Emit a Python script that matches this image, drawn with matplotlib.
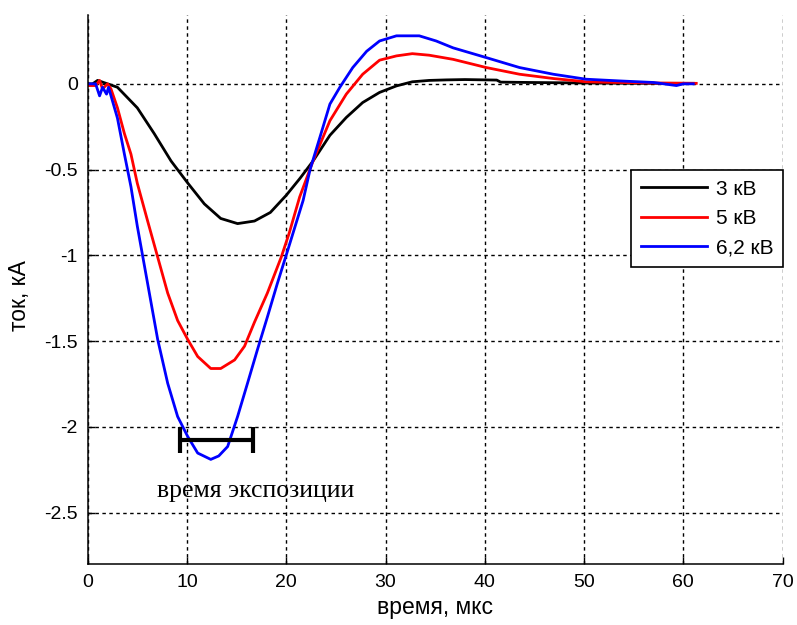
import matplotlib
matplotlib.use("Agg")
import matplotlib.pyplot as plt

plt.rcParams['font.family'] = ['Liberation Sans', 'DejaVu Sans']

# 3 кВ
t_3kv = [0, 0.5, 1.0, 1.5, 2.0, 3.0, 5.0, 6.7, 8.4, 10.1, 11.75, 13.4, 15.1,
         16.8, 18.4, 20.0, 21.4, 22.7, 24.4, 26.05, 27.7, 29.4, 31.1, 32.7,
         34.4, 36.1, 38.0, 41.2, 41.6, 44.5, 50.0, 55.0, 61.0]
i_3kv = [0, 0, 0.02, 0.01, 0.0, -0.02, -0.14, -0.29, -0.45, -0.58, -0.70,
         -0.785, -0.815, -0.80, -0.75, -0.65, -0.55, -0.45, -0.30, -0.196,
         -0.109, -0.05, -0.012, 0.012, 0.02, 0.023, 0.025, 0.022, 0.01, 0.008,
         0.005, 0.003, 0.003]

# 5 кВ
t_5kv = [0, 0.8, 1.2, 1.5, 2.0, 2.35, 3.0, 3.7, 4.36, 5.0, 6.04, 7.05, 8.06,
         9.06, 10.07, 11.08, 12.4, 13.4, 14.8, 15.8, 16.8, 18.1, 19.5, 20.3,
         21.35, 22.7, 24.4, 26.05, 27.7, 29.4, 31.1, 32.7, 34.4, 36.8, 40.15,
         43.5, 46.9, 50.2, 53.6, 57.0, 61.3]
i_5kv = [-0.01, -0.01, 0.02, -0.03, 0.0, -0.03, -0.14, -0.29, -0.41, -0.58,
         -0.80, -1.01, -1.22, -1.38, -1.49, -1.59, -1.66, -1.66, -1.61, -1.53,
         -1.39, -1.22, -1.01, -0.87, -0.66, -0.45, -0.215, -0.06, 0.056,
         0.138, 0.163, 0.176, 0.167, 0.143, 0.095, 0.056, 0.031, 0.012,
         0.008, 0.005, 0.003]

# 6,2 кВ
t_62kv = [0, 0.8, 1.2, 1.5, 1.9, 2.1, 2.4, 3.0, 3.7, 4.36, 5.0, 6.04, 7.05,
          8.06, 9.06, 10.07, 11.08, 12.4, 13.2, 14.1, 15.1, 16.1, 17.1, 18.1,
          19.1, 20.1, 21.7, 22.4, 23.4, 24.4, 25.4, 26.7, 28.1, 29.4, 31.1,
          33.4, 35.1, 36.8, 40.15, 43.5, 46.9, 50.2, 53.6, 57.0, 59.3, 60.0,
          61.0]
i_62kv = [0, 0, -0.07, -0.02, -0.06, -0.02, -0.08, -0.2, -0.41, -0.60, -0.83,
          -1.165, -1.49, -1.746, -1.94, -2.056, -2.153, -2.19, -2.17, -2.115,
          -1.94, -1.746, -1.55, -1.36, -1.165, -0.98, -0.68, -0.5, -0.31,
          -0.118, -0.02, 0.095, 0.19, 0.25, 0.28, 0.28, 0.25, 0.21, 0.153,
          0.095, 0.056, 0.027, 0.017, 0.008, -0.01, 0.0, 0.0]

series = [
    (t_3kv, i_3kv, 'k', '3 кВ'),
    (t_5kv, i_5kv, 'r', '5 кВ'),
    (t_62kv, i_62kv, 'b', '6,2 кВ'),
]

# интервал экспозиции (мкс) и его уровень на графике (кА)
exposure_start = 9.26
exposure_end = 16.65
exposure_level = -2.076
exposure_cap = 0.075
exposure_text = 'время экспозиции'
exposure_text_pos = (16.9, -2.376)

x_ticks = [0, 10, 20, 30, 40, 50, 60, 70]
y_ticks = [-2.5, -2, -1.5, -1, -0.5, 0]
y_tick_labels = ['-2.5', '-2', '-1.5', '-1', '-0.5', '0']

fig = plt.figure(figsize=(7.97, 6.25), dpi=100)
ax = fig.add_axes([0.110, 0.0976, 0.872, 0.878])

for t, i, color, label in series:
    ax.plot(t, i, color=color, linewidth=2, label=label)

# отрезок "время экспозиции"
ax.plot([exposure_start, exposure_end], [exposure_level, exposure_level],
        color='k', linewidth=3, solid_capstyle='butt')
for x in (exposure_start, exposure_end):
    ax.plot([x, x], [exposure_level - exposure_cap, exposure_level + exposure_cap],
            color='k', linewidth=3, solid_capstyle='butt')
ax.text(exposure_text_pos[0], exposure_text_pos[1], exposure_text,
        family=['Liberation Serif', 'DejaVu Serif'], fontsize=18.5,
        ha='center', va='center')

ax.set_xlim(0, 70)
ax.set_ylim(-2.8, 0.4)
ax.set_xticks(x_ticks)
ax.set_yticks(y_ticks)
ax.set_yticklabels(y_tick_labels)

ax.grid(True, color='k', linestyle=(0, (2.5, 2.5)), linewidth=1.0)
ax.tick_params(direction='in', length=5, width=1, labelsize=14, pad=7,
               colors='k')
ax.spines['top'].set_visible(False)
ax.spines['right'].set_visible(False)
for s in ('left', 'bottom'):
    ax.spines[s].set_linewidth(1.1)

ax.set_xlabel('время, мкс', fontsize=16.5)
ax.set_ylabel('ток, кА', fontsize=16.5)
ax.xaxis.set_label_coords(0.5, -0.058)
ax.yaxis.set_label_coords(-0.082, 0.49)

leg = ax.legend(loc='upper right', bbox_to_anchor=(1.0, 0.7177),
                borderaxespad=0, fontsize=15, fancybox=False, framealpha=1,
                edgecolor='k', handlelength=3.2, handletextpad=0.4,
                labelspacing=0.5, borderpad=0.45)
leg.get_frame().set_linewidth(1.2)

fig.savefig('out.png', dpi=100)
